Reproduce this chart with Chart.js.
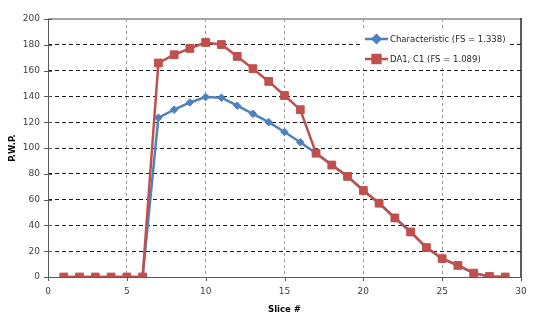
<!DOCTYPE html>
<html>
<head>
<meta charset="utf-8">
<script src="https://cdn.jsdelivr.net/npm/chart.js@4/dist/chart.umd.min.js"></script>
<style>
  html, body { margin: 0; padding: 0; background: #fff; }
  #wrap { width: 553px; height: 326px; }
</style>
</head>
<body>
<div id="wrap"><canvas id="c" width="553" height="326"></canvas></div>
<script>
// Slice numbers along the failure surface
const slices = [1, 2, 3, 4, 5, 6, 7, 8, 9, 10, 11, 12, 13, 14, 15, 16, 17, 18, 19, 20, 21, 22, 23, 24, 25, 26, 27, 28, 29];
// Pore water pressure per slice, characteristic analysis
const characteristic = [0, 0, 0, 0, 0, 0, 123.5, 129.7, 135.3, 139.5, 139, 132.8, 126.5, 120, 112.4, 104.5, 96, 86.8, 78, 67.1, 57.2, 45.8, 34.9, 22.8, 14.2, 9, 3, 0.4, 0];
// Pore water pressure per slice, DA1 combination 1
const da1c1 = [0, 0, 0, 0, 0, 0, 165.9, 172.3, 177.2, 181.8, 180.2, 171, 161.5, 151.6, 140.7, 129.7, 96, 86.8, 78, 67.1, 57.2, 45.8, 34.9, 22.8, 14.2, 9, 3, 0.4, 0];
const seriesNames = ['Characteristic (FS = 1.338)', 'DA1, C1 (FS = 1.089)'];
const xTicks = [0, 5, 10, 15, 20, 25, 30];
const yTicks = [0, 20, 40, 60, 80, 100, 120, 140, 160, 180, 200];

const BLUE = '#4F81BD';
const RED = '#C0504D';
const FONT = 'DejaVu Sans';

const pts = arr => slices.map((s, i) => ({ x: s, y: arr[i] }));

// Axis lines, crossing tick marks and plot frame
const frame = {
  id: 'frame',
  beforeDatasetsDraw(chart) {
    const { ctx, chartArea: a, scales: { x, y } } = chart;
    ctx.save();
    // top edge (light) and right edge (dark)
    ctx.lineWidth = 2;
    ctx.strokeStyle = '#A6A6A6';
    ctx.beginPath(); ctx.moveTo(a.left, a.top); ctx.lineTo(a.right, a.top); ctx.stroke();
    ctx.strokeStyle = '#262626';
    ctx.lineWidth = 1.5;
    ctx.beginPath(); ctx.moveTo(a.right, a.top - 1); ctx.lineTo(a.right, a.bottom); ctx.stroke();
    // axes
    ctx.strokeStyle = '#595959';
    ctx.lineWidth = 1;
    ctx.beginPath();
    ctx.moveTo(Math.round(a.left) + 0.5, a.top);
    ctx.lineTo(Math.round(a.left) + 0.5, a.bottom);
    ctx.moveTo(a.left, Math.round(a.bottom) + 0.5);
    ctx.lineTo(a.right, Math.round(a.bottom) + 0.5);
    // tick marks
    yTicks.forEach(v => {
      const py = Math.round(y.getPixelForValue(v)) + 0.5;
      ctx.moveTo(a.left - 4, py); ctx.lineTo(a.left + 4, py);
    });
    xTicks.forEach(v => {
      const px = Math.round(x.getPixelForValue(v)) + 0.5;
      ctx.moveTo(px, a.bottom); ctx.lineTo(px, a.bottom + 4);
    });
    ctx.stroke();
    ctx.restore();
  },
  afterDatasetsDraw(chart) {
    // legend box inside the plot area
    const { ctx } = chart;
    const bx = 363, by = 30, bw = 146, bh = 38;
    ctx.save();
    ctx.fillStyle = '#fff';
    ctx.fillRect(bx, by, bw, bh);
    const rows = [
      { y: 39, color: BLUE, style: 'rectRot', r: 3.8 },
      { y: 59, color: RED, style: 'rect', r: 5.5 }
    ];
    rows.forEach((row, i) => {
      ctx.strokeStyle = row.color;
      ctx.lineWidth = 2.5;
      ctx.beginPath(); ctx.moveTo(365, row.y); ctx.lineTo(388, row.y); ctx.stroke();
      ctx.fillStyle = row.color;
      Chart.helpers.drawPoint(ctx, { pointStyle: row.style, radius: row.r, borderWidth: 1, rotation: 0 }, 376.5, row.y);
      ctx.fill();
      ctx.fillStyle = '#262626';
      ctx.font = '8.5px "' + FONT + '"';
      ctx.textBaseline = 'middle';
      ctx.textAlign = 'left';
      ctx.fillText(chart.data.datasets[i].label, 390, row.y + 0.5);
    });
    ctx.restore();
  }
};

new Chart(document.getElementById('c'), {
  type: 'line',
  data: {
    datasets: [
      {
        label: seriesNames[0],
        data: pts(characteristic),
        borderColor: BLUE,
        backgroundColor: BLUE,
        borderWidth: 2.5,
        pointStyle: 'rectRot',
        pointRadius: 3.8,
        pointBorderWidth: 1,
        tension: 0,
        order: 2
      },
      {
        label: seriesNames[1],
        data: pts(da1c1),
        borderColor: RED,
        backgroundColor: RED,
        borderWidth: 2.5,
        pointStyle: 'rect',
        pointRadius: 5.5,
        pointBorderWidth: 1,
        tension: 0,
        order: 1
      }
    ]
  },
  options: {
    responsive: false,
    animation: false,
    events: [],
    layout: { padding: { top: 19, right: 32, left: 0, bottom: 0 } },
    plugins: { legend: { display: false }, tooltip: { enabled: false } },
    scales: {
      x: {
        type: 'linear',
        min: 0, max: 30,
        afterBuildTicks: s => { s.ticks = xTicks.map(v => ({ value: v })); },
        afterFit: s => { s.height = 49; },
        ticks: { color: '#404040', font: { family: FONT, size: 9 }, padding: 9, maxRotation: 0 },
        grid: {
          drawTicks: false,
          color: c => (c.tick.value === 0 || c.tick.value === 30) ? 'rgba(0,0,0,0)' : '#999999',
          lineWidth: 1
        },
        border: { display: false, dash: [3, 3] },
        title: { display: true, text: 'Slice #', color: '#000', font: { family: FONT, size: 8.5, weight: 'bold' }, padding: { top: 2, bottom: 11 } }
      },
      y: {
        min: 0, max: 200,
        afterBuildTicks: s => { s.ticks = yTicks.map(v => ({ value: v })); },
        afterFit: s => { s.width = 48; },
        ticks: { color: '#404040', font: { family: FONT, size: 9 }, padding: 8 },
        grid: {
          drawTicks: false,
          color: c => (c.tick.value === 0 || c.tick.value === 200) ? 'rgba(0,0,0,0)' : '#1a1a1a',
          lineWidth: 1
        },
        border: { display: false, dash: [4, 3] },
        title: { display: true, text: 'P.W.P.', color: '#000', font: { family: FONT, size: 8.5, weight: 'bold' }, padding: { top: 8, bottom: 0 } }
      }
    }
  },
  plugins: [frame]
});
</script>
</body>
</html>
